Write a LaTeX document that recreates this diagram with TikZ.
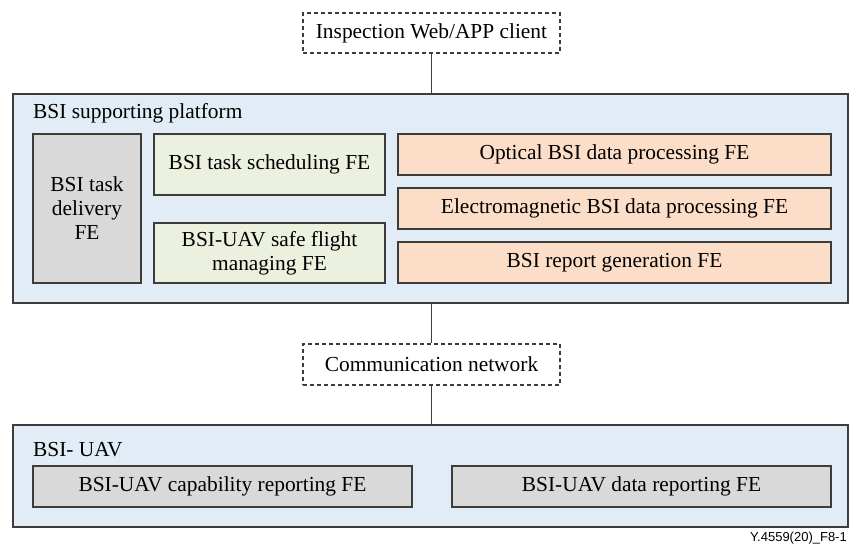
\documentclass[tikz,border=0pt]{standalone}
\usepackage{fontspec}
\setmainfont{Liberation Serif}
\newfontfamily\figfont{Liberation Sans}
\usepackage{tikz}
\definecolor{edgegray}{HTML}{3C3C3C}
\definecolor{platblue}{HTML}{E2ECF7}
\definecolor{fegray}{HTML}{D9D9D9}
\definecolor{fegreen}{HTML}{EBF1DE}
\definecolor{feorange}{HTML}{FCDDC8}
\begin{document}
\begin{tikzpicture}[x=1pt,y=-1pt,
    font=\fontsize{21.4}{24}\selectfont,
    box/.style={draw=edgegray, line width=1.2pt, inner sep=0pt, align=center},
    dashbox/.style={box, dash pattern=on 4pt off 3pt, fill=white},
    area/.style={box, fill=platblue},
    grayfe/.style={box, fill=fegray},
    greenfe/.style={box, fill=fegreen},
    orangefe/.style={box, fill=feorange},
    link/.style={draw=edgegray, line width=1.2pt}]
    \useasboundingbox (0,0) rectangle (849,547);
    % outer areas
    \node[area, minimum width=835pt, minimum height=209pt] (platform) at (430.5,198.5) {};
    \node[area, minimum width=835pt, minimum height=102pt] (uav) at (430.5,476) {};
    \node[anchor=west, inner sep=0pt] (platformtitle) at (33,113) {BSI supporting platform};
    \node[anchor=west, inner sep=0pt] (uavtitle) at (33,450) {BSI- UAV};
    % dashed boxes
    \node[dashbox, minimum width=257pt, minimum height=40pt] (client) at (431.5,33) {Inspection Web/APP client};
    \node[dashbox, minimum width=257pt, minimum height=41pt] (network) at (431.5,364.5) {Communication network};
    % platform FEs
    \node[grayfe, minimum width=108pt, minimum height=149pt] (delivery) at (87,208.5) {BSI task\\delivery\\FE};
    \node[greenfe, minimum width=231pt, minimum height=61pt] (sched) at (269.5,164.5) {BSI task scheduling FE};
    \node[greenfe, minimum width=231pt, minimum height=60pt] (flight) at (269.5,253) {BSI-UAV safe flight\\managing FE};
    \node[orangefe, minimum width=433pt, minimum height=41pt] (optical) at (614.5,154.5) {Optical BSI data processing FE};
    \node[orangefe, minimum width=433pt, minimum height=41pt] (electro) at (614.5,208.5) {Electromagnetic BSI data processing FE};
    \node[orangefe, minimum width=433pt, minimum height=41pt] (report) at (614.5,262.5) {BSI report generation FE};
    % UAV FEs
    \node[grayfe, minimum width=379pt, minimum height=41pt] (capab) at (222.5,486.5) {BSI-UAV capability reporting FE};
    \node[grayfe, minimum width=379pt, minimum height=41pt] (datarep) at (641.5,486.5) {BSI-UAV data reporting FE};
    % links
    \draw[link] (client.south) -- (client.south |- platform.north);
    \draw[link] (network.north |- platform.south) -- (network.north);
    \draw[link] (network.south) -- (network.south |- uav.north);
    \node[anchor=base east, inner sep=0pt, font=\figfont\fontsize{13}{15}\selectfont] (figlabel) at (847,541) {Y.4559(20)\_F8-1};
\end{tikzpicture}
\end{document}
